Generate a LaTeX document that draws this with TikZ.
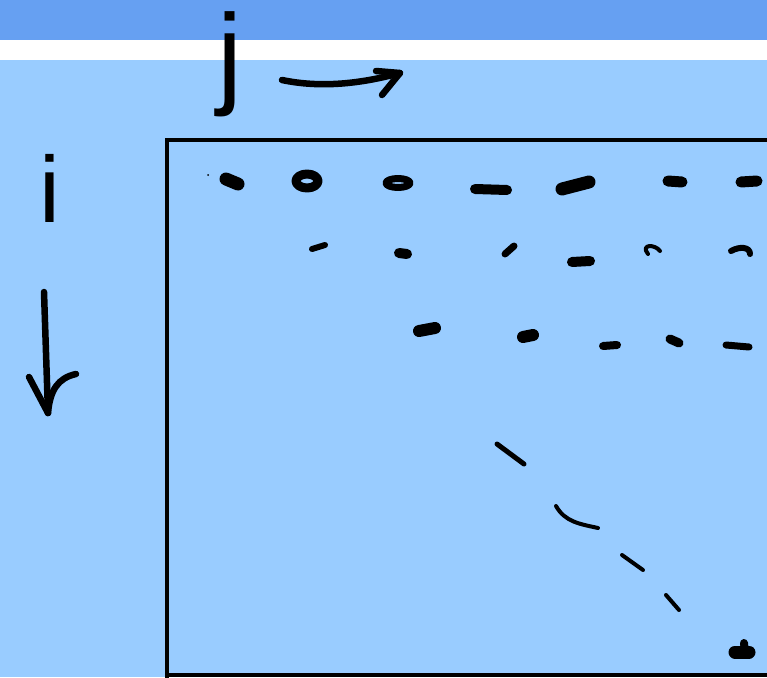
\documentclass[tikz,border=0pt]{standalone}
\usepackage{fontspec}
\setmainfont{Liberation Sans}
\definecolor{bandblue}{RGB}{102,160,242}
\definecolor{paleblue}{RGB}{153,204,255}
\tikzset{
  ink/.style={line width=#1, line cap=round, line join=round, black},
  ink/.default=5pt,
  letter/.style={inner sep=0pt, anchor=base, text=black}
}
\begin{document}
\begin{tikzpicture}[x=1pt,y=-1pt]
\useasboundingbox (0,0) rectangle (767,677);
\clip (0,0) rectangle (767,677);
% backgrounds
\fill[paleblue] (0,0) rectangle (767,677);
\fill[white] (0,40) rectangle (767,60);
\fill[bandblue] (0,0) rectangle (767,40);
% matrix frame
\draw[line width=4pt] (167,800) -- (167,140) -- (800,140);
\draw[line width=4pt] (167,675) -- (800,675);
% letters
\node[letter, font=\fontsize{94}{94}\selectfont] (ilabel) at (50,222) {i};
\node[letter, font=\fontsize{113}{113}\selectfont] (jlabel) at (230,93) {j};
% arrow to the right (j)
\coordinate (ja) at (282,80);
\coordinate (jb) at (400,73);
\draw[ink=6.5pt] (ja) .. controls (320,88) and (360,84) .. (jb);
\draw[ink=6.5pt] (376,71) -- (jb) -- (382,95);
% arrow downward (i)
\coordinate (ia) at (44,292);
\coordinate (ib) at (48,413);
\draw[ink=6.5pt] (ia) -- (ib);
\draw[ink=6.5pt] (29,377) -- (ib);
\draw[ink=6.5pt] (76,374) .. controls (58,378) and (50,390) .. (ib);
% row 1
\fill (208,175) circle (1pt);
\draw[ink=13pt] (226,179) -- (238,184);
\draw[ink=9pt] (307,181) ellipse (11 and 7);
\draw[ink=7pt] (398,183) ellipse (12 and 4.5);
\draw[ink=10pt] (475,189) -- (507,190);
\draw[ink=13pt] (562,189) -- (589,182);
\draw[ink=11pt] (668,181) -- (682,182);
\draw[ink=11pt] (741,182) -- (757,181);
% row 2
\draw[ink=6pt] (312,249) -- (325,245);
\draw[ink=10pt] (399,253) -- (407,254);
\draw[ink=7pt] (505,254) -- (514,246);
\draw[ink=10pt] (572,262) -- (590,261);
\draw[ink=4pt] (648,254) .. controls (640,244) and (655,244) .. (660,251);
\draw[ink=6pt] (731,251) .. controls (740,246) and (750,247) .. (750,254);
% row 3
\draw[ink=12pt] (419,331) -- (435,328);
\draw[ink=12pt] (523,337) -- (533,335);
\draw[ink=8pt] (603,346) -- (617,345);
\draw[ink=9pt] (670,339) -- (679,343);
\draw[ink=7pt] (726,345) -- (749,347);
% diagonal
\draw[ink=5pt] (497,444) -- (524,464);
\draw[ink=4pt] (556,506) .. controls (565,522) and (580,524) .. (598,528);
\draw[ink=4pt] (622,555) -- (643,570);
\draw[ink=4pt] (666,595) -- (679,610);
\draw[ink=13pt] (735,652) -- (749,652);
\draw[ink=8pt] (744,643) -- (745,653);
\end{tikzpicture}
\end{document}
